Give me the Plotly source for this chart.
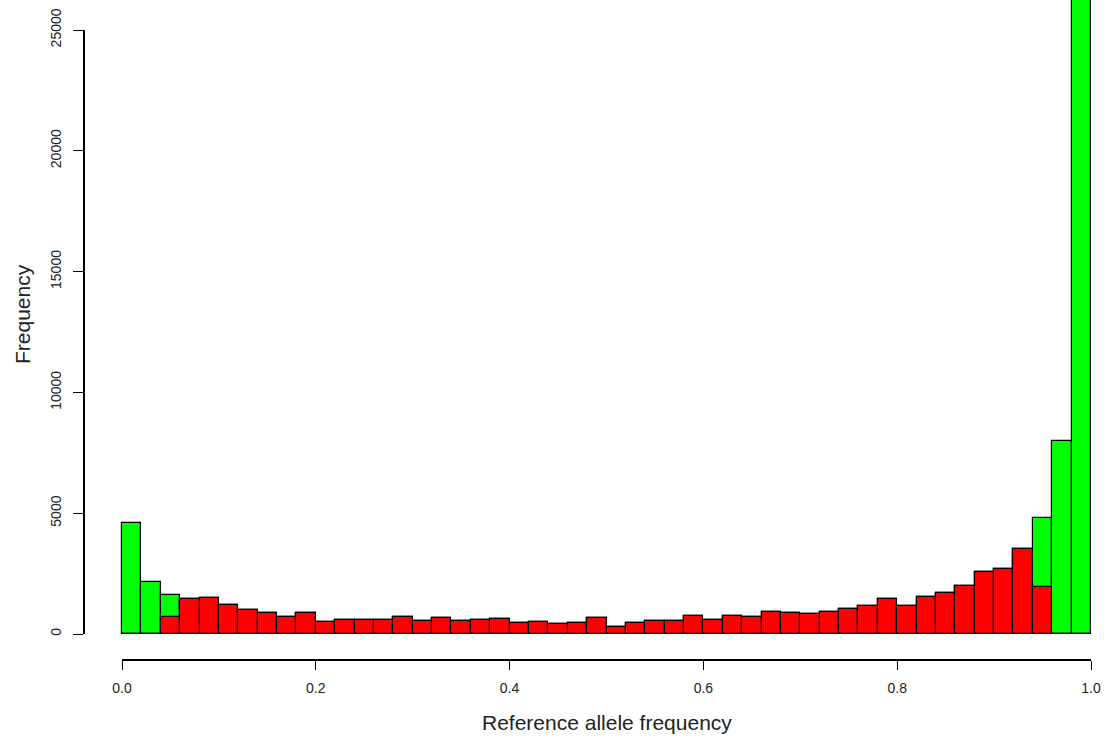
import plotly.graph_objects as go

# Histogram bins: 0.00-0.02, ..., 0.98-1.00
bin_left = [i * 0.02 for i in range(50)]
bin_centers = [round(b + 0.01, 3) for b in bin_left]

# All sites (green) -- counts per bin
green_counts = [
    4590, 2170, 1600, 1450, 1510, 1180, 1000, 890, 720, 880,
    510, 600, 600, 600, 690, 540, 650, 525, 580, 636,
    442, 511, 428, 470, 677, 290, 442, 525, 539, 732,
    567, 760, 691, 900, 880, 838, 891, 1048, 1153, 1467,
    1153, 1534, 1710, 1990, 2548, 2705, 3507, 4800, 7975, 29000,
]

# Subset (red) -- counts per bin
red_counts = [
    0, 0, 705, 1450, 1510, 1180, 1000, 890, 720, 880,
    510, 600, 600, 600, 690, 540, 650, 525, 580, 636,
    442, 511, 428, 470, 677, 290, 442, 525, 539, 732,
    567, 760, 691, 900, 880, 838, 891, 1048, 1153, 1467,
    1153, 1534, 1710, 1990, 2548, 2705, 3507, 1937, 0, 0,
]

x_ticks = [0.0, 0.2, 0.4, 0.6, 0.8, 1.0]
x_tick_labels = ["0.0", "0.2", "0.4", "0.6", "0.8", "1.0"]
y_ticks = [0, 5000, 10000, 15000, 20000, 25000]
y_tick_labels = ["0", "5000", "10000", "15000", "20000", "25000"]

FONT = "Liberation Sans, Arial, Helvetica, sans-serif"

fig = go.Figure()
fig.add_trace(go.Bar(
    x=bin_centers, y=green_counts, width=0.02,
    marker=dict(color="#00FF00", line=dict(color="black", width=1.2)),
    showlegend=False, hoverinfo="x+y",
))
fig.add_trace(go.Bar(
    x=bin_centers, y=red_counts, width=0.02,
    marker=dict(color="#FF0000", line=dict(color="black", width=1.2)),
    showlegend=False, hoverinfo="x+y",
))

# plot area: x 84..1100 px, y 0..660 px
L, R, T, B = 84, 8, 0, 78
px_per_x = 969.0          # px per 1.0 on x
x0_px = 122.0             # pixel of x=0
x_range = [(L - x0_px) / px_per_x, (1108 - R - x0_px) / px_per_x]
px_per_y = 0.02416        # px per count
y0_px = 634.0             # pixel of y=0
y_range = [-(660 - y0_px) / px_per_y, y0_px / px_per_y]

fig.update_layout(
    width=1108, height=738,
    margin=dict(l=L, r=R, t=T, b=B, pad=0),
    paper_bgcolor="white", plot_bgcolor="white",
    barmode="overlay", bargap=0,
    font=dict(family=FONT, color="black"),
    xaxis=dict(
        range=x_range, showgrid=False, zeroline=False, showline=False,
        tickmode="array", tickvals=x_ticks, ticktext=x_tick_labels,
        ticks="outside", ticklen=9, tickwidth=1.2, tickcolor="black",
        tickfont=dict(size=14, family=FONT, color="#222"),
        ticklabelstandoff=6,
    ),
    yaxis=dict(
        range=y_range, showgrid=False, zeroline=False, showline=False,
        tickmode="array", tickvals=y_ticks, ticktext=y_tick_labels,
        ticks="outside", ticklen=10, tickwidth=1.2, tickcolor="black",
        tickangle=-90,
        tickfont=dict(size=14, family=FONT, color="#222"),
        ticklabelstandoff=6,
    ),
    shapes=[
        dict(type="line", xref="x", yref="paper", x0=0, x1=1, y0=0, y1=0,
             line=dict(color="black", width=2)),
        dict(type="line", xref="paper", yref="y", x0=0, x1=0, y0=0, y1=25000,
             line=dict(color="black", width=2)),
    ],
    annotations=[
        dict(text="Reference allele frequency", xref="x", yref="paper",
             x=0.5, y=0, xanchor="center", yanchor="middle", yshift=-62,
             showarrow=False, font=dict(size=21, family=FONT, color="#222")),
        dict(text="Frequency", xref="paper", yref="paper",
             x=0, y=1 - 314 / 660, xanchor="center", yanchor="middle", xshift=-62,
             textangle=-90, showarrow=False,
             font=dict(size=21, family=FONT, color="#222")),
    ],
)

fig.write_html("out.html")
